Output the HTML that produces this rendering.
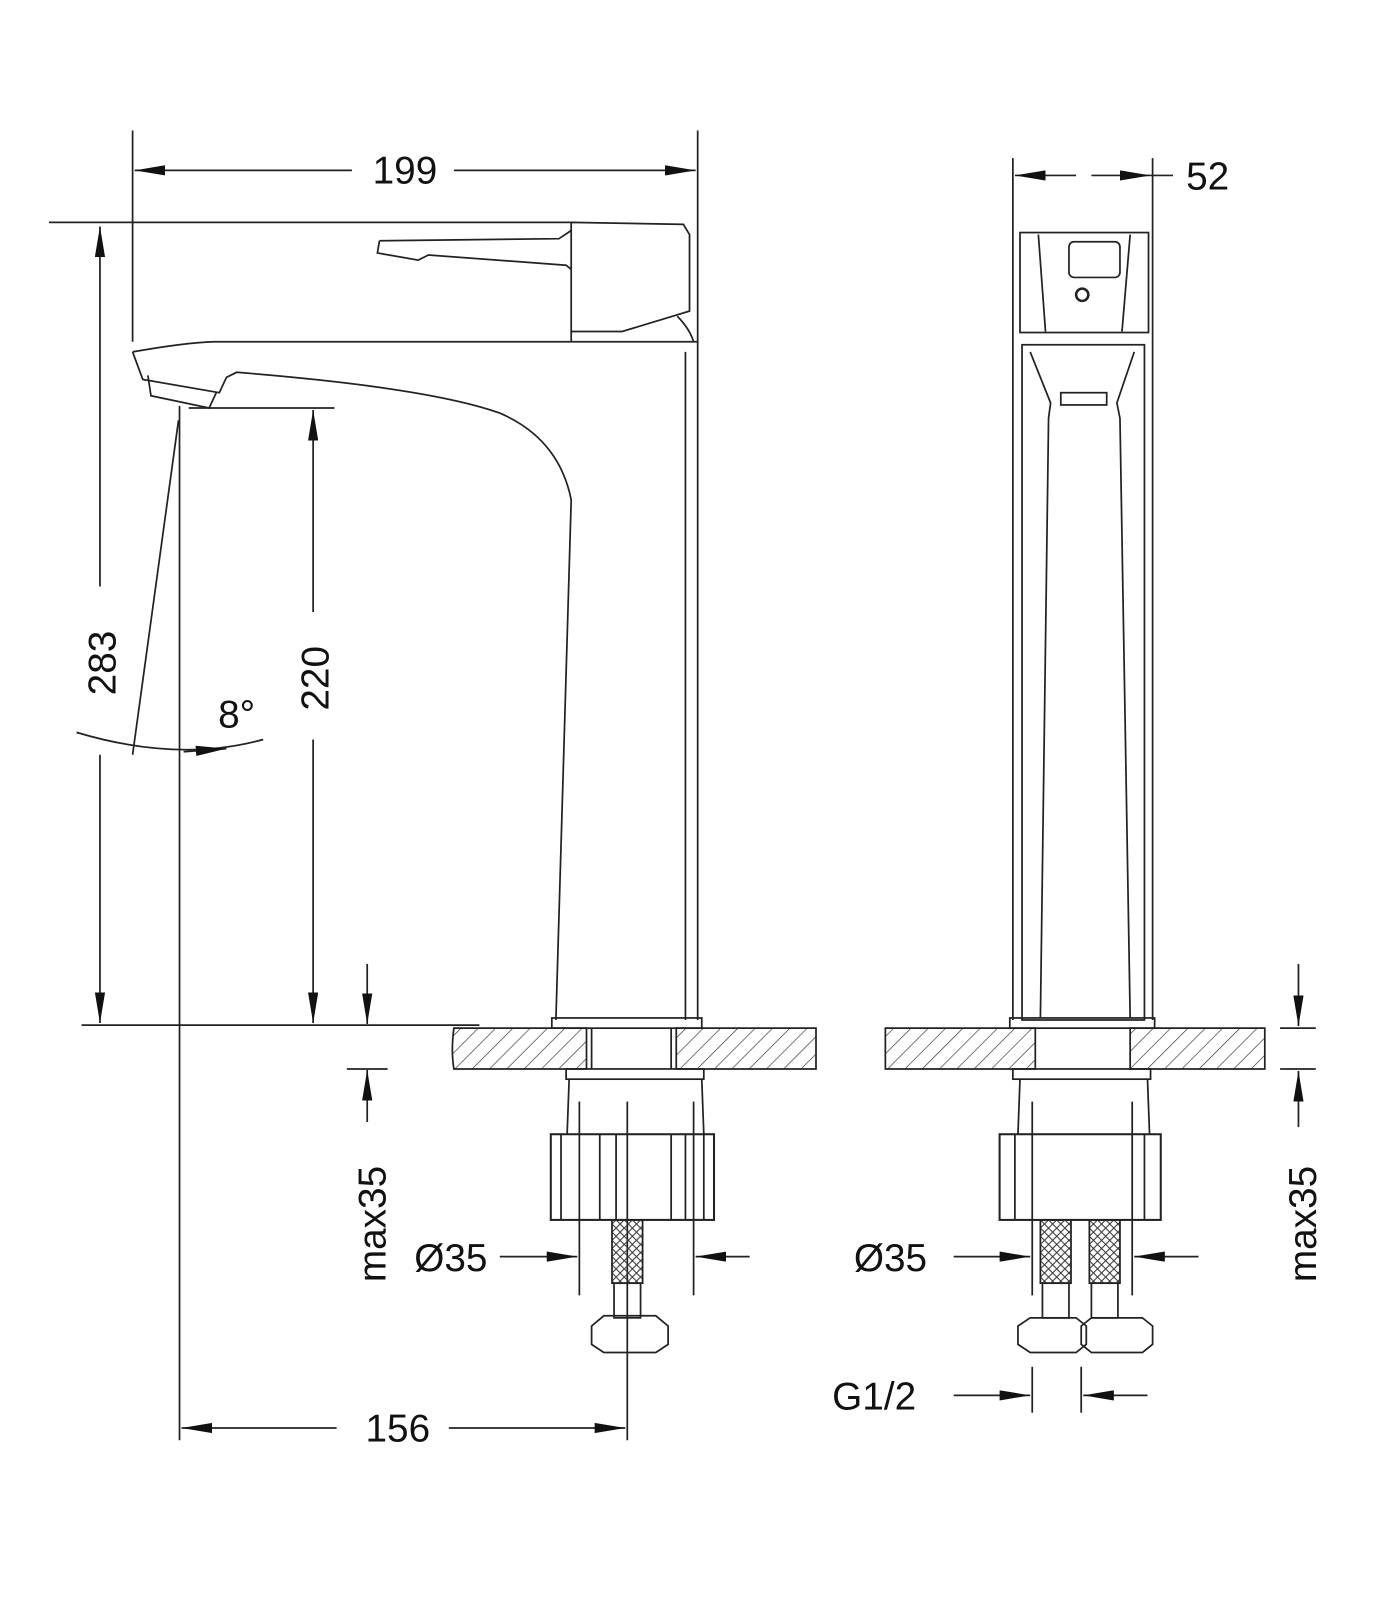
<!DOCTYPE html>
<html><head><meta charset="utf-8"><style>
html,body{margin:0;padding:0;background:#fff}
svg{display:block}
text{font-family:"Liberation Sans",sans-serif;font-size:38px;fill:#111}
</style></head><body>
<svg width="1400" height="1600" viewBox="0 0 1400 1600" xmlns="http://www.w3.org/2000/svg">
<defs>
<marker id="b" markerWidth="30" markerHeight="10" refX="30" refY="5" orient="auto" markerUnits="userSpaceOnUse"><path d="M0,0 L30,5 L0,10 Z" fill="#111"/></marker>
<pattern id="h" width="12" height="12" patternUnits="userSpaceOnUse" patternTransform="rotate(45)"><line x1="0" y1="0" x2="0" y2="12" stroke="#333" stroke-width="1.3"/></pattern>
<pattern id="x" width="8" height="8" patternUnits="userSpaceOnUse"><path d="M0,0L8,8M8,0L0,8" stroke="#333" stroke-width="1"/></pattern>
</defs>
<g transform="scale(1.02)">
<g stroke="#222" stroke-width="1.7" fill="none">
<line x1="130" y1="128" x2="130" y2="335"/>
<line x1="684" y1="128" x2="684" y2="1000"/>
<line x1="345" y1="167" x2="132" y2="167" marker-end="url(#b)"/>
<line x1="445" y1="167" x2="682" y2="167" marker-end="url(#b)"/>
<line x1="48" y1="218" x2="560" y2="218"/>
<line x1="98" y1="575" x2="98" y2="222" marker-end="url(#b)"/>
<line x1="98" y1="740" x2="98" y2="1003" marker-end="url(#b)"/>
<line x1="80" y1="1005" x2="470" y2="1005"/>
<line x1="185" y1="400" x2="328" y2="400"/>
<line x1="307" y1="600" x2="307" y2="402" marker-end="url(#b)"/>
<line x1="307" y1="725" x2="307" y2="1003" marker-end="url(#b)"/>
<line x1="176" y1="398" x2="176" y2="1412"/>
<line x1="175" y1="412" x2="130" y2="740"/>
<path d="M75,718 Q175,748 258,725"/>
<line x1="180" y1="737" x2="222" y2="734" marker-end="url(#b)"/>
<line x1="360" y1="945" x2="360" y2="1004" marker-end="url(#b)"/>
<line x1="360" y1="1100" x2="360" y2="1049" marker-end="url(#b)"/>
<line x1="340" y1="1048" x2="380" y2="1048"/>
<line x1="490" y1="1232" x2="566" y2="1232" marker-end="url(#b)"/>
<line x1="735" y1="1232" x2="682" y2="1232" marker-end="url(#b)"/>
<line x1="568" y1="1080" x2="568" y2="1270"/>
<line x1="680" y1="1080" x2="680" y2="1270"/>
<line x1="615" y1="1080" x2="615" y2="1412"/>
<line x1="330" y1="1400" x2="178" y2="1400" marker-end="url(#b)"/>
<line x1="440" y1="1400" x2="613" y2="1400" marker-end="url(#b)"/>
<path d="M560,218 L670,220 L676,230 L676,305 L610,325 L560,325 Z"/>
<path d="M372,236 L548,234 L560,226 M372,236 L370,248 L410,255 L420,250 L555,260 L560,264"/>
<line x1="560" y1="325" x2="560" y2="335"/>
<path d="M664,310 Q676,322 680,335"/>
<path d="M130,345 Q180,336 210,335 L684,335"/>
<path d="M130,345 L140,372 L215,385 L222,370 L232,365 Q420,380 490,405 Q548,430 560,490 L545,1000"/>
<path d="M145,368 L148,388 L205,400 L212,385"/>
<line x1="672" y1="345" x2="672" y2="1000"/>
<rect x="541" y="998" width="147" height="10"/>
<path d="M445,1008 L575,1008 L575,1048 L445,1048 Q442,1030 445,1008 Z" fill="url(#h)"/>
<path d="M663,1008 L800,1008 L800,1048 L663,1048 Z" fill="url(#h)"/>
<line x1="580" y1="1008" x2="580" y2="1048"/><line x1="658" y1="1008" x2="658" y2="1048"/>
<rect x="555" y="1048" width="135" height="10"/>
<path d="M558,1058 L556,1112 M688,1058 L690,1112"/>
<rect x="540" y="1112" width="160" height="84" stroke-width="2"/>
<path d="M550,1112V1196M588,1112V1196M604,1112V1196M658,1112V1196M672,1112V1196M690,1112V1196"/>
<rect x="600" y="1196" width="30" height="62" fill="url(#x)"/>
<rect x="602" y="1258" width="26" height="34"/>
<path d="M580,1300 L592,1290 L643,1290 L655,1300 L655,1318 L643,1326 L592,1326 L580,1318 Z"/>
<line x1="993" y1="155" x2="993" y2="1000"/>
<line x1="1130" y1="155" x2="1130" y2="1000"/>
<line x1="1055" y1="172" x2="995" y2="172" marker-end="url(#b)"/>
<line x1="1070" y1="172" x2="1128" y2="172" marker-end="url(#b)"/>
<line x1="1128" y1="172" x2="1150" y2="172"/>
<rect x="1000" y="228" width="126" height="98"/>
<path d="M1018,230 L1025,325 M1108,230 L1100,325"/>
<rect x="1048" y="237" width="50" height="35" rx="5"/>
<circle cx="1061" cy="289" r="6" stroke-width="2.5"/>
<rect x="1002" y="338" width="120" height="662"/>
<path d="M1010,345 L1030,395 L1028,410 L1020,998 M1112,345 L1095,395 L1098,410 L1108,998"/>
<rect x="1040" y="385" width="45" height="12"/>
<rect x="990" y="998" width="142" height="10"/>
<path d="M868,1008 L1015,1008 L1015,1048 L868,1048 Z" fill="url(#h)"/>
<path d="M1108,1008 L1240,1008 L1240,1048 L1108,1048 Z" fill="url(#h)"/>
<rect x="993" y="1048" width="135" height="10"/>
<path d="M1000,1058 L998,1112 M1125,1058 L1127,1112"/>
<rect x="980" y="1112" width="158" height="84" stroke-width="2"/>
<path d="M995,1112V1196M1122,1112V1196"/>
<line x1="1012" y1="1080" x2="1012" y2="1270"/><line x1="1110" y1="1080" x2="1110" y2="1270"/>
<rect x="1020" y="1196" width="30" height="62" fill="url(#x)"/>
<rect x="1068" y="1196" width="30" height="62" fill="url(#x)"/>
<rect x="1022" y="1258" width="26" height="34"/><rect x="1070" y="1258" width="26" height="34"/>
<path d="M998,1300 L1010,1292 L1055,1292 L1065,1300 L1065,1318 L1055,1326 L1010,1326 L998,1318 Z"/>
<path d="M1060,1300 L1070,1292 L1120,1292 L1130,1300 L1130,1318 L1120,1326 L1070,1326 L1060,1318 Z"/>
<line x1="935" y1="1232" x2="1010" y2="1232" marker-end="url(#b)"/>
<line x1="1175" y1="1232" x2="1112" y2="1232" marker-end="url(#b)"/>
<line x1="1012" y1="1340" x2="1012" y2="1385"/><line x1="1060" y1="1340" x2="1060" y2="1385"/>
<line x1="935" y1="1368" x2="1010" y2="1368" marker-end="url(#b)"/>
<line x1="1125" y1="1368" x2="1062" y2="1368" marker-end="url(#b)"/>
<line x1="1273" y1="945" x2="1273" y2="1006" marker-end="url(#b)"/>
<line x1="1273" y1="1105" x2="1273" y2="1050" marker-end="url(#b)"/>
<line x1="1255" y1="1008" x2="1290" y2="1008"/><line x1="1255" y1="1048" x2="1290" y2="1048"/>
</g>
<text x="397" y="180" text-anchor="middle">199</text>
<text x="1184" y="186" text-anchor="middle">52</text>
<text transform="translate(113,650) rotate(-90)" text-anchor="middle">283</text>
<text transform="translate(322,665) rotate(-90)" text-anchor="middle">220</text>
<text x="232" y="713" font-size="28" text-anchor="middle">8°</text>
<text transform="translate(378,1200) rotate(-90)" text-anchor="middle">max35</text>
<text transform="translate(1290,1200) rotate(-90)" text-anchor="middle">max35</text>
<text x="442" y="1246" text-anchor="middle">Ø35</text>
<text x="873" y="1246" text-anchor="middle">Ø35</text>
<text x="390" y="1413" text-anchor="middle">156</text>
<text x="857" y="1382" text-anchor="middle">G1/2</text>
</g>
</svg>
</body></html>
